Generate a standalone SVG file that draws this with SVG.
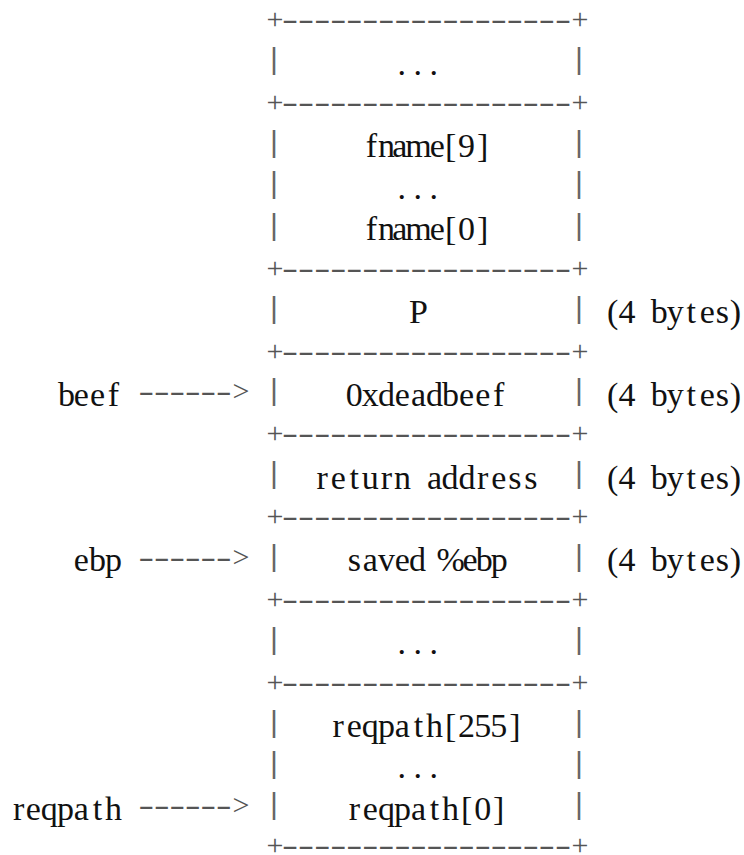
<svg xmlns="http://www.w3.org/2000/svg" width="744" height="855" viewBox="0 0 744 855">
<style>
.w{font-family:"Liberation Serif","Times New Roman",serif;font-size:34px;fill:#111;text-anchor:middle}
.b{font-family:"Liberation Serif","Times New Roman",serif;font-size:30px;fill:#555}
.p{font-family:"Liberation Mono","DejaVu Sans Mono",monospace;font-size:30px;fill:#666;text-anchor:middle}
.d{font-family:"Liberation Serif","Times New Roman",serif;font-size:34px;fill:#111}
</style>
<rect width="744" height="855" fill="#fff"/>
<g id="dividers">
<text class="b" y="29.3"><tspan x="266.5">+</tspan><tspan x="282.05" textLength="288.9" lengthAdjust="spacingAndGlyphs">------------------</tspan><tspan x="571.5">+</tspan></text>
<text class="b" y="112.1"><tspan x="266.5">+</tspan><tspan x="282.05" textLength="288.9" lengthAdjust="spacingAndGlyphs">------------------</tspan><tspan x="571.5">+</tspan></text>
<text class="b" y="277.7"><tspan x="266.5">+</tspan><tspan x="282.05" textLength="288.9" lengthAdjust="spacingAndGlyphs">------------------</tspan><tspan x="571.5">+</tspan></text>
<text class="b" y="360.5"><tspan x="266.5">+</tspan><tspan x="282.05" textLength="288.9" lengthAdjust="spacingAndGlyphs">------------------</tspan><tspan x="571.5">+</tspan></text>
<text class="b" y="443.3"><tspan x="266.5">+</tspan><tspan x="282.05" textLength="288.9" lengthAdjust="spacingAndGlyphs">------------------</tspan><tspan x="571.5">+</tspan></text>
<text class="b" y="526.1"><tspan x="266.5">+</tspan><tspan x="282.05" textLength="288.9" lengthAdjust="spacingAndGlyphs">------------------</tspan><tspan x="571.5">+</tspan></text>
<text class="b" y="608.9"><tspan x="266.5">+</tspan><tspan x="282.05" textLength="288.9" lengthAdjust="spacingAndGlyphs">------------------</tspan><tspan x="571.5">+</tspan></text>
<text class="b" y="691.7"><tspan x="266.5">+</tspan><tspan x="282.05" textLength="288.9" lengthAdjust="spacingAndGlyphs">------------------</tspan><tspan x="571.5">+</tspan></text>
<text class="b" y="855.0"><tspan x="266.5">+</tspan><tspan x="282.05" textLength="288.9" lengthAdjust="spacingAndGlyphs">------------------</tspan><tspan x="571.5">+</tspan></text>
</g>
<g id="cell-top">
<text class="p" x="274.0" y="69.1">|</text><text class="p" x="579.0" y="69.1">|</text>
<text class="d" x="397.4 413.5 429.5" y="74.6">...</text>
</g>
<g id="cell-fname">
<text class="p" x="274.0" y="151.9">|</text><text class="p" x="579.0" y="151.9">|</text>
<text class="p" x="274.0" y="193.3">|</text><text class="p" x="579.0" y="193.3">|</text>
<text class="p" x="274.0" y="234.7">|</text><text class="p" x="579.0" y="234.7">|</text>
<text class="w" x="371.3 386.4 399.7 418.5 437.3 450.6 466.6 482.7" y="157.4">fname[9]</text>
<text class="d" x="397.4 413.5 429.5" y="198.8">...</text>
<text class="w" x="371.3 386.4 399.7 418.5 437.3 450.6 466.6 482.7" y="240.2">fname[0]</text>
</g>
<g id="cell-p">
<text class="p" x="274.0" y="317.5">|</text><text class="p" x="579.0" y="317.5">|</text>
<text class="w" x="418.5" y="323.0">P</text>
</g>
<g id="cell-deadbeef">
<text class="p" x="274.0" y="400.3">|</text><text class="p" x="579.0" y="400.3">|</text>
<text class="w" x="354.3 370.3 386.4 402.4 418.5 434.5 450.6 466.6 482.7 498.7" y="405.8">0xdeadbeef</text>
</g>
<g id="cell-ret">
<text class="p" x="274.0" y="483.1">|</text><text class="p" x="579.0" y="483.1">|</text>
<text class="w" x="322.2 338.2 354.3 370.3 386.4 402.4 418.5 434.5 450.1 467.1 482.7 498.7 514.8 530.8" y="488.6">return address</text>
</g>
<g id="cell-ebp">
<text class="p" x="274.0" y="565.9">|</text><text class="p" x="579.0" y="565.9">|</text>
<text class="w" x="354.3 370.3 386.4 402.4 417.5 434.5 450.6 470.0 484.2 499.2" y="571.4">saved %ebp</text>
</g>
<g id="cell-gap">
<text class="p" x="274.0" y="648.7">|</text><text class="p" x="579.0" y="648.7">|</text>
<text class="d" x="397.4 413.5 429.5" y="654.2">...</text>
</g>
<g id="cell-reqpath">
<text class="p" x="274.0" y="731.5">|</text><text class="p" x="579.0" y="731.5">|</text>
<text class="p" x="274.0" y="772.9">|</text><text class="p" x="579.0" y="772.9">|</text>
<text class="p" x="274.0" y="814.3">|</text><text class="p" x="579.0" y="814.3">|</text>
<text class="w" x="338.2 354.3 370.3 386.4 402.4 418.5 434.5 450.6 466.6 482.7 498.7 514.8" y="737.0">reqpath[255]</text>
<text class="d" x="397.4 413.5 429.5" y="778.4">...</text>
<text class="w" x="354.3 370.3 386.4 402.4 418.5 434.5 450.6 466.6 482.7 498.7" y="819.8">reqpath[0]</text>
</g>
<g id="sizes">
<text class="w" x="612.6 627.1 643.2 659.2 675.3 691.3 707.4 722.4 735.5" y="323.0">(4 bytes)</text>
<text class="w" x="612.6 627.1 643.2 659.2 675.3 691.3 707.4 722.4 735.5" y="405.8">(4 bytes)</text>
<text class="w" x="612.6 627.1 643.2 659.2 675.3 691.3 707.4 722.4 735.5" y="488.6">(4 bytes)</text>
<text class="w" x="612.6 627.1 643.2 659.2 675.3 691.3 707.4 722.4 735.5" y="571.4">(4 bytes)</text>
</g>
<g id="label-beef"><text class="w" x="66.4 81.4 97.5 113.5" y="405.8">beef</text></g>
<g id="label-ebp"><text class="w" x="81.4 97.5 113.5" y="571.4">ebp</text></g>
<g id="label-reqpath"><text class="w" x="18.7 33.3 49.3 65.4 81.4 97.5 113.5" y="819.8">reqpath</text></g>
<g id="connectors">
<text class="b" y="401.0"><tspan x="138.5" textLength="93" lengthAdjust="spacingAndGlyphs">------</tspan><tspan x="232.5">&gt;</tspan></text>
<text class="b" y="566.6"><tspan x="138.5" textLength="93" lengthAdjust="spacingAndGlyphs">------</tspan><tspan x="232.5">&gt;</tspan></text>
<text class="b" y="815.0"><tspan x="138.5" textLength="93" lengthAdjust="spacingAndGlyphs">------</tspan><tspan x="232.5">&gt;</tspan></text>
</g>
</svg>
